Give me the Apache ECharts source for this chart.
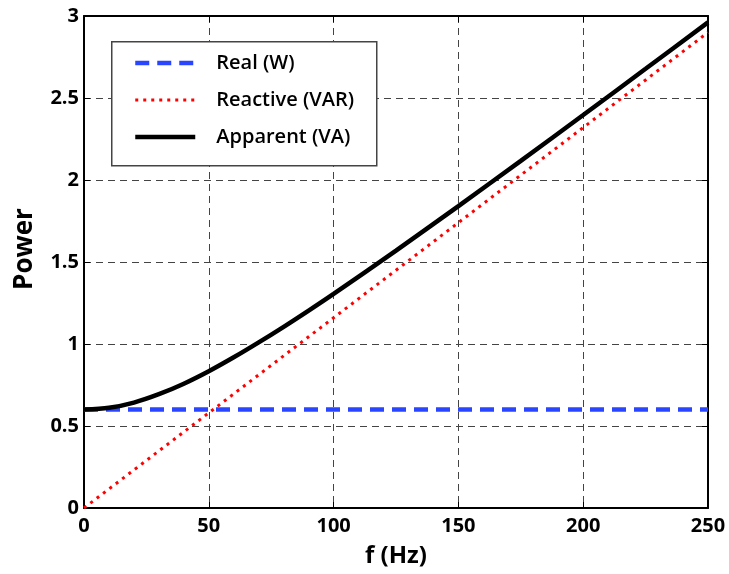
<!DOCTYPE html>
<html><head><meta charset="utf-8">
<script src="https://cdn.jsdelivr.net/npm/echarts@6/dist/echarts.min.js"></script>
<style>html,body{margin:0;padding:0;background:#fff}#c{width:729px;height:574px}</style>
</head><body><div id="c"></div>
<script>
const freq = [0, 10, 20, 30, 40, 50, 60, 70, 80, 90, 100, 125, 150, 175, 200, 225, 250];
const realW = [0.6, 0.6, 0.6, 0.6, 0.6, 0.6, 0.6, 0.6, 0.6, 0.6, 0.6, 0.6, 0.6, 0.6, 0.6, 0.6, 0.6];
const reactiveVAR = [0, 0.116, 0.232, 0.348, 0.464, 0.58, 0.696, 0.812, 0.928, 1.044, 1.16, 1.45, 1.74, 2.03, 2.32, 2.61, 2.9];
const apparentVA = [0.6, 0.611, 0.643, 0.694, 0.758, 0.834, 0.919, 1.01, 1.105, 1.204, 1.306, 1.569, 1.841, 2.117, 2.396, 2.678, 2.961];
const seriesNames = ['Real (W)', 'Reactive (VAR)', 'Apparent (VA)'];

const font = '"Open Sans", "DejaVu Sans", sans-serif';
const chart = echarts.init(document.getElementById('c'));
const pairs = arr => freq.map((f, i) => [f, arr[i]]);
const gridLine = { show: true, lineStyle: { color: '#444', width: 1, type: [7, 5] } };
const axisLine = { show: true, onZero: false, lineStyle: { color: '#000', width: 2 } };
const tick = { show: true, inside: true, length: 6, lineStyle: { color: '#000', width: 1 } };
const styles = [
  { color: '#2a45ff', width: 4.5, type: [14, 8] },
  { color: '#ff0000', width: 3, type: [3, 5] },
  { color: '#000000', width: 4.5, type: 'solid' }
];
chart.setOption({
  animation: false,
  backgroundColor: '#fff',
  grid: { left: 84, right: 21, top: 16, bottom: 66, containLabel: false },
  xAxis: [{
    type: 'value', min: 0, max: 250, interval: 50,
    name: 'f (Hz)', nameLocation: 'middle', nameGap: 36,
    nameTextStyle: { fontFamily: font, fontWeight: 'bold', fontSize: 24, color: '#000' },
    axisLine: axisLine, axisTick: tick,
    axisLabel: { fontFamily: font, fontWeight: 'bold', fontSize: 20, color: '#000', margin: 8 },
    splitLine: gridLine
  }, {
    type: 'value', min: 0, max: 250, interval: 50, position: 'top',
    axisLine: axisLine, axisTick: tick,
    axisLabel: { show: false }, splitLine: { show: false }
  }],
  yAxis: [{
    type: 'value', min: 0, max: 3, interval: 0.5,
    name: 'Power', nameLocation: 'middle', nameGap: 46,
    nameTextStyle: { fontFamily: font, fontWeight: 'bold', fontSize: 26, color: '#000', padding: [0, 0, 0, 26] },
    axisLine: axisLine, axisTick: tick,
    axisLabel: { fontFamily: font, fontWeight: 'bold', fontSize: 20, color: '#000', margin: 5 },
    splitLine: gridLine
  }, {
    type: 'value', min: 0, max: 3, interval: 0.5, position: 'right',
    axisLine: axisLine, axisTick: tick,
    axisLabel: { show: false }, splitLine: { show: false }
  }],
  graphic: [{
    type: 'rect', left: 111, top: 41, z: 10,
    shape: { width: 265, height: 124 },
    style: { fill: '#fff', stroke: '#444', lineWidth: 1.5 }
  }],
  legend: {
    z: 11, orient: 'vertical', left: 128, top: 48,
    itemWidth: 60, itemHeight: 16, itemGap: 17,
    itemStyle: { color: 'rgba(0,0,0,0)', borderWidth: 0, opacity: 0 },
    textStyle: { fontFamily: font, fontWeight: 600, fontSize: 20, color: '#000', padding: [0, 0, 0, 16] },
    data: seriesNames.map((n, i) => ({ name: n, lineStyle: { width: styles[i].width, type: styles[i].type, color: styles[i].color } }))
  },
  series: seriesNames.map((n, i) => ({
    name: n, type: 'line',
    data: pairs([realW, reactiveVAR, apparentVA][i]),
    showSymbol: false, symbol: 'none', smooth: i === 2 ? 0.3 : false,
    lineStyle: styles[i], itemStyle: { color: styles[i].color }
  }))
});
</script></body></html>
